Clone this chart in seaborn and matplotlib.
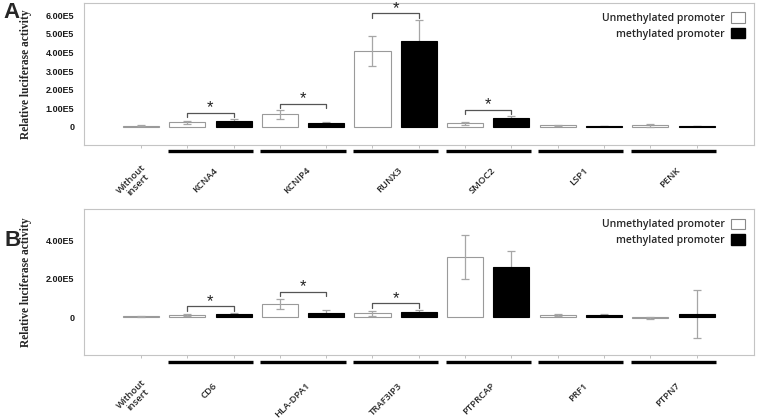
import numpy as np
import pandas as pd
import seaborn as sns
import matplotlib.pyplot as plt
from matplotlib.patches import Patch
from matplotlib.transforms import blended_transform_factory

# Panel A values (relative luciferase activity)
genes_a = ["KCNA4", "KCNIP4", "RUNX3", "SMOC2", "LSP1", "PENK"]
ctrl_a, ctrl_a_err = 7000, 3000
unmeth_a = [25000, 68000, 409000, 20000, 8000, 8000]
unmeth_a_err = [9000, 23000, 79000, 8000, 2000, 8000]
meth_a = [31000, 22000, 464000, 48000, 5000, 5000]
meth_a_err = [11000, 6000, 113000, 10000, 1000, 2000]
star_a = [True, True, True, True, False, False]
yticks_a = [0, 100000, 200000, 300000, 400000, 500000, 600000]
yticklabels_a = ["0", "1.00E5", "2.00E5", "3.00E5", "4.00E5", "5.00E5", "6.00E5"]

# Panel B values
genes_b = ["CD6", "HLA-DPA1", "TRAF3IP3", "PTPRCAP", "PRF1", "PTPN7"]
ctrl_b, ctrl_b_err = 5000, 2000
unmeth_b = [10000, 70000, 20000, 312000, 13000, -3000]
unmeth_b_err = [5000, 27000, 12000, 114000, 5000, 5000]
meth_b = [15000, 24000, 26000, 262000, 12000, 17000]
meth_b_err = [7000, 12000, 12000, 83000, 4000, 125000]
star_b = [True, True, True, False, False, False]
yticks_b = [0, 200000, 400000]
yticklabels_b = ["0", "2.00E5", "4.00E5"]

KINDS = ["Without insert", "Unmethylated promoter", "methylated promoter"]
PALETTE = {"Without insert": "#e4e4e4", "Unmethylated promoter": "white",
           "methylated promoter": "black"}
ERR_COLOR = "#a6a6a6"
LABEL_FONT = ["Open Sans", "DejaVu Sans"]

sns.set_style("white")
plt.rcParams["font.family"] = ["Liberation Sans", "DejaVu Sans"]


def build_frame(genes, ctrl, ctrl_err, unmeth, unmeth_err, meth, meth_err):
    rows = [{"slot": "ctrl", "kind": KINDS[0], "value": ctrl, "err": ctrl_err}]
    for g, u, ue, m, me in zip(genes, unmeth, unmeth_err, meth, meth_err):
        rows.append({"slot": g + "_U", "kind": KINDS[1], "value": u, "err": ue})
        rows.append({"slot": g + "_M", "kind": KINDS[2], "value": m, "err": me})
    return pd.DataFrame(rows)


def draw_panel(ax, df, genes, stars, ylim, yticks, yticklabels, label_y, line_y):
    slots = list(df["slot"])
    sns.barplot(data=df, x="slot", y="value", hue="kind", order=slots,
                hue_order=KINDS, palette=PALETTE, dodge=False, width=0.78,
                errorbar=None, saturation=1, legend=False, ax=ax)
    for p in ax.patches:
        fc = p.get_facecolor()
        if sum(fc[:3]) < 0.3:
            p.set_edgecolor("black")
        else:
            p.set_edgecolor("#9a9a9a")
        p.set_linewidth(0.8)

    pos = np.arange(len(df))
    # error bars: on top for light bars, hidden behind black bars
    for i, (v, e, k) in enumerate(zip(df["value"], df["err"], df["kind"])):
        z = 0.5 if k == KINDS[2] else 3
        ax.errorbar(pos[i], v, yerr=e, color=ERR_COLOR, lw=0.9, capsize=3,
                    capthick=0.9, zorder=z)

    # significance brackets
    span = ylim[1] - ylim[0]
    for gi, (g, s) in enumerate(zip(genes, stars)):
        if not s:
            continue
        xu, xm = 1 + 2 * gi, 2 + 2 * gi
        top = max(df["value"][xu] + df["err"][xu], df["value"][xm] + df["err"][xm])
        yb = top + 0.045 * span
        leg = 0.03 * span
        ax.plot([xu, xu, xm, xm], [yb - leg, yb, yb, yb - leg], color="#555555",
                lw=0.9, zorder=4)
        ax.text((xu + xm) / 2, yb + 0.035 * span, "*", ha="center", va="center",
                fontsize=12, color="#222222")

    trans = blended_transform_factory(ax.transData, ax.transAxes)
    for gi, g in enumerate(genes):
        c = 1.5 + 2 * gi
        ax.plot([c - 0.92, c + 0.92], [line_y, line_y], color="black", lw=2.4,
                transform=trans, clip_on=False, solid_capstyle="butt")
        ax.text(c + 0.12, label_y, g, transform=trans, rotation=45, ha="right",
                va="center", rotation_mode="anchor", fontsize=6.8,
                fontweight="semibold", family=LABEL_FONT)
    ax.text(0.15, label_y, "Without\ninsert", transform=trans, rotation=45,
            ha="right", va="center", rotation_mode="anchor", multialignment="center",
            fontsize=6.8, fontweight="semibold", family=LABEL_FONT,
            linespacing=1.0)

    ax.set_xlim(-1.23, 13.24)
    ax.set_ylim(*ylim)
    ax.set_xticks(pos)
    ax.set_xticklabels([])
    ax.set_xlabel("")
    ax.set_yticks(yticks)
    ax.set_yticklabels(yticklabels, fontsize=6.5, fontweight="bold",
                       color="#1a1a1a")
    ax.tick_params(axis="x", length=2, color="#b5b5b5", width=0.6, bottom=True)
    ax.tick_params(axis="y", length=0, pad=7)
    ax.set_ylabel("Relative luciferase activity", family=["Liberation Serif"],
                  fontweight="bold", fontsize=8.3)
    ax.yaxis.set_label_coords(-0.078, 0.5)
    for sp in ax.spines.values():
        sp.set_visible(True)
        sp.set_color("#c4c4c4")
        sp.set_linewidth(0.8)

    handles = [Patch(facecolor="white", edgecolor="#8a8a8a", lw=0.8),
               Patch(facecolor="black", edgecolor="black")]
    ax.legend(handles, ["Unmethylated promoter", "methylated promoter"],
              loc="upper right", frameon=False, markerfirst=False,
              handlelength=1.3, handleheight=1.2, handletextpad=0.6,
              labelspacing=0.35, borderaxespad=0.5,
              prop={"family": LABEL_FONT, "size": 7.5, "weight": "semibold"})


fig = plt.figure(figsize=(7.57, 4.2), dpi=100)
ax_a = fig.add_axes([0.111, 0.655, 0.885, 0.338])
ax_b = fig.add_axes([0.111, 0.155, 0.885, 0.347])

df_a = build_frame(genes_a, ctrl_a, ctrl_a_err, unmeth_a, unmeth_a_err, meth_a, meth_a_err)
df_b = build_frame(genes_b, ctrl_b, ctrl_b_err, unmeth_b, unmeth_b_err, meth_b, meth_b_err)

draw_panel(ax_a, df_a, genes_a, star_a, (-97000, 667000), yticks_a, yticklabels_a,
           label_y=-0.17, line_y=-0.042)
draw_panel(ax_b, df_b, genes_b, star_b, (-195000, 560000), yticks_b, yticklabels_b,
           label_y=-0.2, line_y=-0.048)

fig.text(11 / 757, 1 - 13 / 420, "A", ha="center", va="center", fontsize=16,
         fontweight="bold")
fig.text(13 / 757, 1 - 241 / 420, "B", ha="center", va="center", fontsize=16,
         fontweight="bold")

fig.savefig("out.png", dpi=100)
